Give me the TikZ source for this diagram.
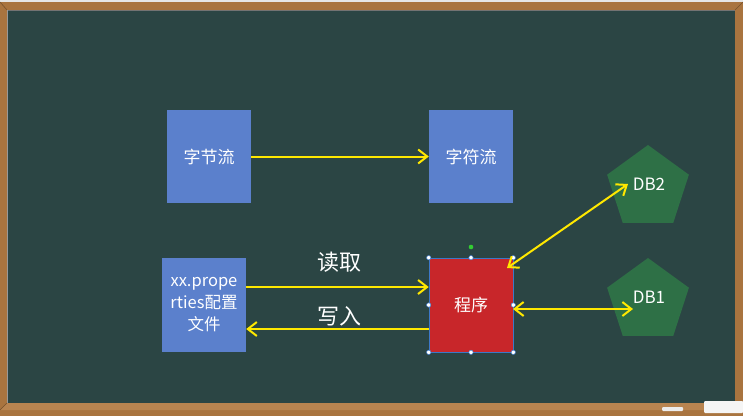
\documentclass[tikz,border=0pt]{standalone}
\usepackage{fontspec}
\setmainfont{Noto Sans CJK SC}
\usetikzlibrary{arrows.meta,shapes.geometric}
\definecolor{boardc}{HTML}{2B4544}
\definecolor{woodc}{HTML}{A9743F}
\definecolor{woodlight}{HTML}{B88450}
\definecolor{bgc}{HTML}{E6E6E6}
\definecolor{boxblue}{HTML}{5B80CC}
\definecolor{boxred}{HTML}{C8262A}
\definecolor{dbgreen}{HTML}{2E7046}
\definecolor{yel}{HTML}{FFE800}
\definecolor{selblue}{HTML}{3C78C8}
\tikzset{
  bluebox/.style={fill=boxblue, text=white, minimum width=84pt, minimum height=93pt, inner sep=0pt, font=\fontsize{17}{22}\selectfont, align=center},
  redbox/.style={fill=boxred, draw=selblue, line width=0.6pt, text=white, minimum width=84pt, minimum height=94pt, inner sep=0pt, font=\fontsize{17}{22}\selectfont},
  dbpent/.style={regular polygon, regular polygon sides=5, fill=dbgreen, minimum size=86pt, inner sep=0pt},
  dbtext/.style={text=white, font=\fontsize{17}{20}\selectfont, inner sep=0pt},
  lbl/.style={text=white, font=\fontsize{22}{26}\selectfont, inner sep=0pt},
  yarrow/.style={draw=yel, line width=2pt, -{Straight Barb[length=9pt,width=14pt]}},
  ydarrow/.style={draw=yel, line width=2pt, {Straight Barb[length=9pt,width=14pt]}-{Straight Barb[length=9pt,width=14pt]}},
  handle/.style={fill=white, draw=selblue, line width=0.5pt}
}
\begin{document}
\begin{tikzpicture}[x=1pt,y=-1pt]
\useasboundingbox (0,0) rectangle (743,416);
% background and frame
\fill[bgc] (0,0) rectangle (743,416);
\fill[woodc] (0,2) rectangle (743,416);
\fill[woodlight] (7,403) -- (735,403) -- (743,410) -- (0,410) -- cycle;
\draw[woodc!70!black, line width=0.6pt] (0,2) -- (7,10) (743,2) -- (735,10) (0,410) -- (7,403) (743,410) -- (735,403);
\fill[boardc] (7,10) rectangle (735,403);
\draw[black!55, line width=1pt] (7,10.5) -- (735,10.5);
\draw[black!40, line width=0.6pt] (7.3,10) -- (7.3,403);
% chalk and eraser
\fill[white!92!gray, rounded corners=1pt] (704,401) rectangle (743,413);
\fill[white!85!gray, rounded corners=1pt] (662,407) rectangle (683,411);

% nodes
\node[bluebox] (zjl) at (209,156.5) {字节流};
\node[bluebox] (zfl) at (471,156.5) {字符流};
\node[bluebox, minimum height=94pt, font=\fontsize{16.5}{22}\selectfont] (props) at (204,305) {xx.prope\\rties配置\\文件};
\node[redbox] (prog) at (471,305) {程序};
\node[dbpent] (db2) at (648,188) {};
\node[dbpent] (db1) at (648,301) {};
\node[dbtext] (db2t) at (649,184) {DB2};
\node[dbtext] (db1t) at (649,297) {DB1};
\node[lbl] (read) at (339,262) {读取};
\node[lbl] (write) at (339,316) {写入};

% selection handles
\draw[selblue, line width=0.5pt] (prog.north) -- ++(0,-2);
\fill[green!60!gray] (471,247) circle (2.3pt);
\foreach \p in {north west, north, north east, west, east, south west, south, south east}
  \draw[handle] (prog.\p) circle (2.2pt);

% connector end points
\coordinate (p2a) at (507,268);
\coordinate (p2b) at (628,184);
\coordinate (p1a) at (513,309);
\coordinate (p1b) at (633,309);

% connectors
\draw[yarrow] (zjl.east) -- (zfl.west);
\draw[yarrow] (props.east |- 0,287) -- (prog.west |- 0,287);
\draw[yarrow] (prog.west |- 0,329) -- (props.east |- 0,329);
\draw[ydarrow] (p2a) -- (p2b);
\draw[ydarrow] (p1a) -- (p1b);
\end{tikzpicture}
\end{document}
